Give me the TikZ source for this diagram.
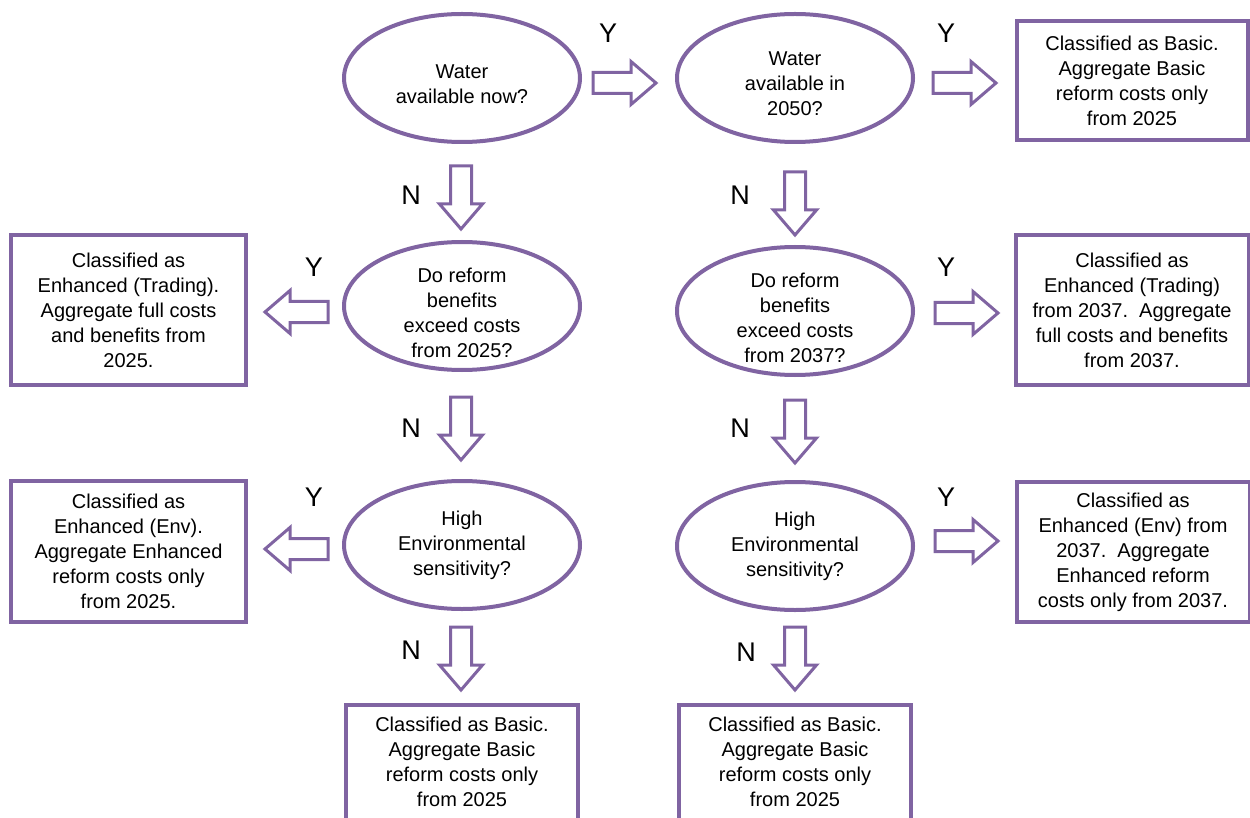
\documentclass[tikz,border=0pt]{standalone}
\usepackage{fontspec}
\setmainfont{Liberation Sans}
\definecolor{purp}{HTML}{8064A2}
\tikzset{
  x=1pt, y=-1pt,
  txt/.style={font=\fontsize{20}{25}\selectfont, align=center, text=black},
  dec/.style={ellipse, draw=purp, line width=4pt, minimum width=236pt, minimum height=128pt, inner sep=0pt},
  outbox/.style={rectangle, draw=purp, line width=4pt, inner sep=0pt, txt, fill=white},
  yn/.style={font=\fontsize{27}{30}\selectfont, text=black, inner sep=0pt},
  barrow/.pic={\draw[purp, line width=3pt, fill=white, line join=miter]
     (0,-10.5) -- (38,-10.5) -- (38,-21.5) -- (63,0) -- (38,21.5) -- (38,10.5) -- (0,10.5) -- cycle;}
}
\usetikzlibrary{shapes.geometric}
\begin{document}
\begin{tikzpicture}
\useasboundingbox[fill=white] (0,0) rectangle (1250,818);
% decisions
\node[dec, label={[name=e1t, txt, yshift=-6pt]center:{Water\\available now?}}] (e1) at (462,78) {};
\node[dec, label={[name=e2t, txt, yshift=-6pt]center:{Water\\available in\\2050?}}] (e2) at (795,78) {};
\node[dec, label={[name=e3t, txt, yshift=-7pt]center:{Do reform\\benefits\\exceed costs\\from 2025?}}] (e3) at (462,306) {};
\node[dec, label={[name=e4t, txt, yshift=-7pt]center:{Do reform\\benefits\\exceed costs\\from 2037?}}] (e4) at (795,311) {};
\node[dec, label={[name=e5t, txt]center:{High\\Environmental\\sensitivity?}}] (e5) at (462,545) {};
\node[dec, label={[name=e6t, txt]center:{High\\Environmental\\sensitivity?}}] (e6) at (795,546) {};
% outcomes
\node[outbox, minimum width=231pt, minimum height=119pt] (b1) at (1132,81) {Classified as Basic.\\Aggregate Basic\\reform costs only\\from 2025};
\node[outbox, minimum width=235pt, minimum height=150pt] (b2) at (128.5,310) {Classified as\\Enhanced (Trading).\\Aggregate full costs\\and benefits from\\2025.};
\node[outbox, minimum width=233pt, minimum height=150pt] (b3) at (1132,310) {Classified as\\Enhanced (Trading)\\from 2037.\ \ Aggregate\\full costs and benefits\\from 2037.};
\node[outbox, minimum width=235pt, minimum height=141pt] (b4) at (128.5,551.5) {Classified as\\Enhanced (Env).\\Aggregate Enhanced\\reform costs only\\from 2025.};
\node[outbox, minimum width=233pt, minimum height=140pt] (b5) at (1133,552) {Classified as\\Enhanced (Env) from\\2037.\ \ Aggregate\\Enhanced reform\\costs only from 2037.};
\node[outbox, minimum width=232pt, minimum height=115pt] (b6) at (462,762) {Classified as Basic.\\Aggregate Basic\\reform costs only\\from 2025};
\node[outbox, minimum width=232pt, minimum height=115pt] (b7) at (795,762) {Classified as Basic.\\Aggregate Basic\\reform costs only\\from 2025};
% block arrows
\pic at (593,83) {barrow};
\pic at (933,83) {barrow};
\pic at (935,313) {barrow};
\pic at (935,541) {barrow};
\pic[rotate=180] at (328,312) {barrow};
\pic[rotate=180] at (328,549) {barrow};
\pic[rotate=-90] at (461,166) {barrow};
\pic[rotate=-90] at (461,397) {barrow};
\pic[rotate=-90] at (461,627) {barrow};
\pic[rotate=-90] at (795,172) {barrow};
\pic[rotate=-90] at (795,400) {barrow};
\pic[rotate=-90] at (795,627) {barrow};
% labels
\node[yn] (y1) at (608,33) {Y};
\node[yn] (y2) at (946,33) {Y};
\node[yn] (n1) at (411,195) {N};
\node[yn] (n2) at (740,195) {N};
\node[yn] (y3) at (314,267) {Y};
\node[yn] (y4) at (946,267) {Y};
\node[yn] (n3) at (411,428) {N};
\node[yn] (n4) at (740,428) {N};
\node[yn] (y5) at (314,497) {Y};
\node[yn] (y6) at (946,497) {Y};
\node[yn] (n5) at (411,650) {N};
\node[yn] (n6) at (746,652) {N};
\end{tikzpicture}
\end{document}
